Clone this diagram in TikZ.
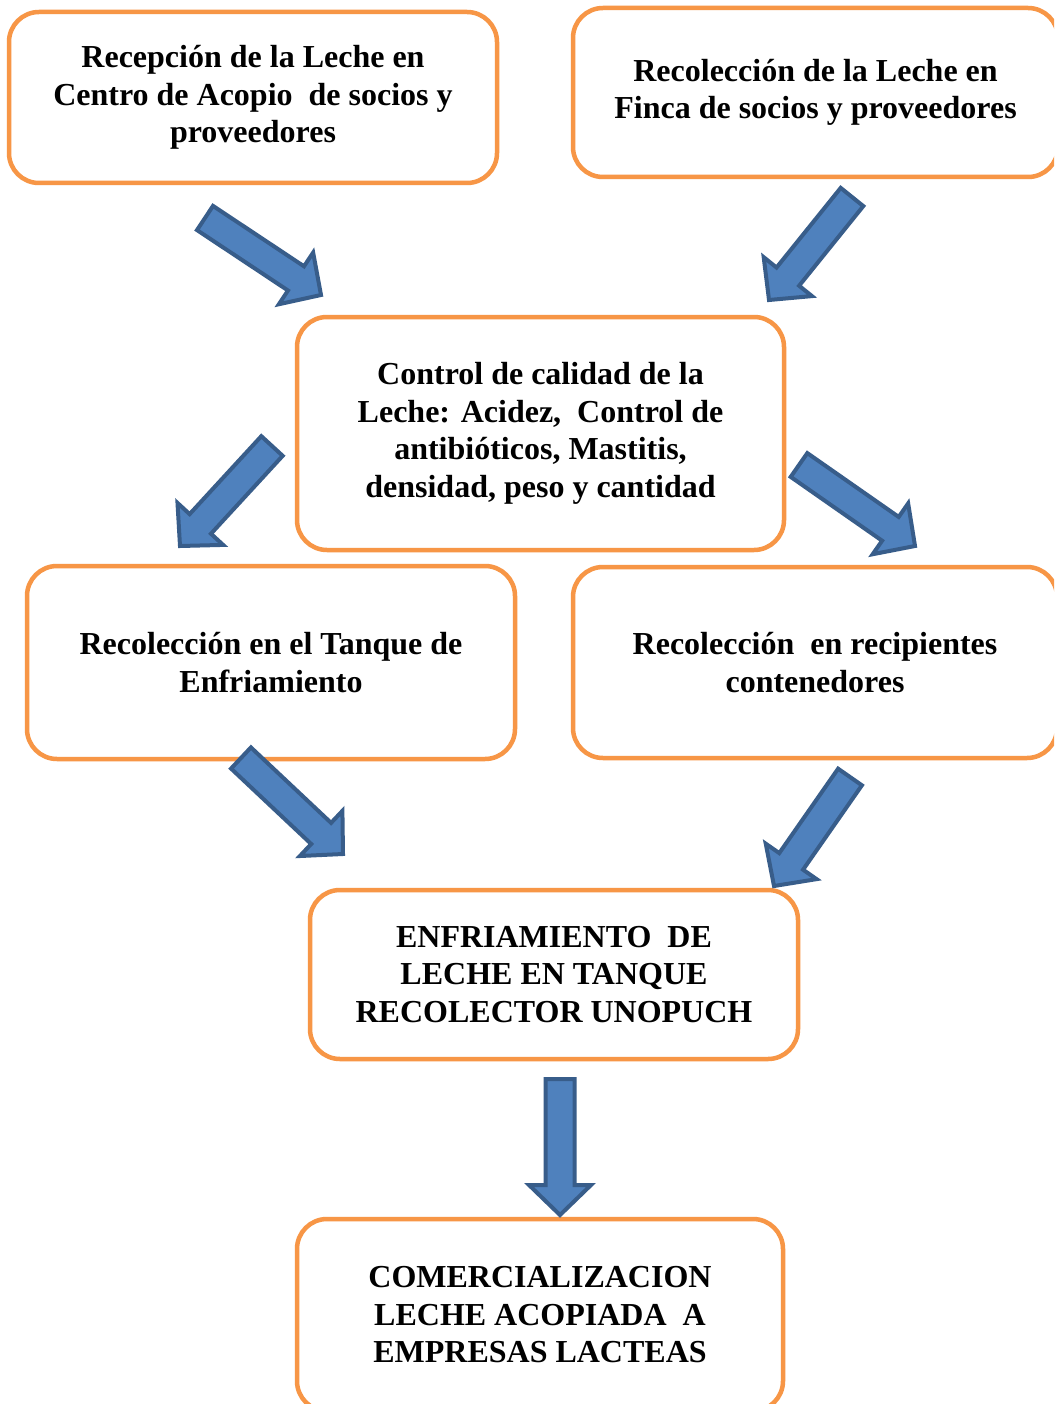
\documentclass[tikz,border=0pt]{standalone}
\usepackage{fontspec}
\setmainfont{Liberation Serif}
\usepackage{tikz}
\usetikzlibrary{calc}
\definecolor{boxOrange}{HTML}{F79646}
\definecolor{arrowFill}{HTML}{4F81BD}
\definecolor{arrowEdge}{HTML}{385D8A}

% block arrow: name, tail, tip
\newcommand{\blockarrow}[3]{%
  \coordinate (#1h) at ($(#3)!30pt!(#2)$);
  \draw[blockarr] ($(#2)!14.5pt!90:(#3)$) -- ($(#1h)!14.5pt!90:(#3)$) -- ($(#1h)!31pt!90:(#3)$)
    -- (#3) -- ($(#1h)!31pt!-90:(#3)$) -- ($(#1h)!14.5pt!-90:(#3)$) -- ($(#2)!14.5pt!-90:(#3)$) -- cycle;
}

\begin{document}
\begin{tikzpicture}[
  x=1pt, y=-1pt,
  font=\bfseries\fontsize{32}{37.5}\selectfont,
  stage/.style={draw=boxOrange, line width=4.5pt, rounded corners=30pt, fill=white,
                minimum width=488pt, align=center, inner sep=0pt},
  blockarr/.style={draw=arrowEdge, fill=arrowFill, line width=4pt, line join=miter}
]
\clip (0,0) rectangle (1054,1404);
\fill[white] (0,0) rectangle (1054,1404);

\node[stage, minimum height=171pt] (recep) at (253,97.5) {Recepción de la Leche en\\Centro de Acopio~ de socios y\\proveedores};
\node[stage, minimum height=169pt, minimum width=485pt] (finca) at (815.5,92.5) {Recolección de la Leche en\\Finca de socios y proveedores};
\node[stage, minimum height=233pt, minimum width=487pt] (control) at (540.5,433.5) {Control de calidad de la\\Leche: Acidez,~ Control de\\antibióticos, Mastitis,\\densidad, peso y cantidad};
\node[stage, minimum height=193pt] (tanque) at (271,662.5) {Recolección en el Tanque de\\Enfriamiento};
\node[stage, minimum height=191pt, minimum width=484pt] (recip) at (815,662.5) {Recolección~ en recipientes\\contenedores};
\node[stage, minimum height=169pt] (enfria) at (554,974.5) {ENFRIAMIENTO~ DE\\LECHE EN TANQUE\\RECOLECTOR UNOPUCH};
\node[stage, minimum height=192pt, minimum width=486pt] (comer) at (540,1315) {COMERCIALIZACION\\LECHE ACOPIADA~ A\\EMPRESAS LACTEAS};

\coordinate (t1) at (205,218);  \coordinate (p1) at (321,295);
\coordinate (t2) at (852,197);  \coordinate (p2) at (769,300);
\coordinate (t3) at (272,446);  \coordinate (p3) at (180,546);
\coordinate (t4) at (799,465);  \coordinate (p4) at (915,546);
\coordinate (t5) at (241,758);  \coordinate (p5) at (343,854);
\coordinate (t6) at (850,777);  \coordinate (p6) at (774,886);
\coordinate (t7) at (560,1079); \coordinate (p7) at (560,1215);

\blockarrow{a1}{t1}{p1}
\blockarrow{a2}{t2}{p2}
\blockarrow{a3}{t3}{p3}
\blockarrow{a4}{t4}{p4}
\blockarrow{a5}{t5}{p5}
\blockarrow{a6}{t6}{p6}
\blockarrow{a7}{t7}{p7}
\end{tikzpicture}
\end{document}
